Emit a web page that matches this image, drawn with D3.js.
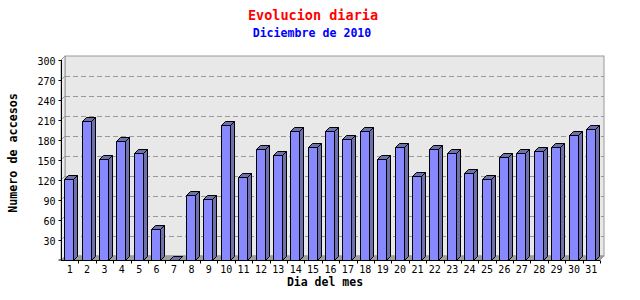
<!DOCTYPE html>
<html><head><meta charset="utf-8">
<script src="https://cdn.jsdelivr.net/npm/d3@7/dist/d3.min.js"></script>
<style>body{margin:0;background:#fff}svg{display:block}</style>
</head><body>
<script>
const days = d3.range(1, 32).map(String);
const accesos = [121, 209, 152, 179, 161, 47, 0, 98, 92, 203, 125, 166, 158, 193, 169, 194, 181, 194, 152, 170, 126, 166, 160, 130, 122, 154, 161, 164, 169, 188, 196];
const yTicks = [30, 60, 90, 120, 150, 180, 210, 240, 270, 300];
const titleText = "Evolucion diaria";
const subtitleText = "Diciembre de 2010";
const yTitle = "Numero de accesos";
const xTitle = "Dia del mes";

const W = 640, H = 300, D = 4;
const svg = d3.select("body").append("svg").attr("width", W).attr("height", H);
svg.append("rect").attr("width", W).attr("height", H).attr("fill", "#fff");

const x = d3.scaleBand().domain(days).range([61, 600]).padding(0);
const y = d3.scaleLinear().domain([0, 300]).range([260, 60]);
const bw = x.bandwidth();
const y0 = y(0), yTop = y(300), xL = x.range()[0], xR = x.range()[1];

// back panel
svg.append("rect").attr("x", xL + D).attr("y", yTop - D).attr("width", xR - xL).attr("height", y0 - yTop)
  .attr("fill", "#e8e8e8").attr("stroke", "#999").attr("stroke-width", 1);
// left wall
svg.append("polygon").attr("points", [[xL, yTop], [xL + D, yTop - D], [xL + D, y0 - D], [xL, y0]].join(" "))
  .attr("fill", "#ececec").attr("stroke", "#999");
// floor
svg.append("polygon").attr("points", [[xL, y0], [xR, y0], [xR + D, y0 - D], [xL + D, y0 - D]].join(" "))
  .attr("fill", "#a0a0a0").attr("stroke", "#999");

// grid lines
const gridVals = yTicks.filter(v => v < 300);
svg.append("g").selectAll("line").data(gridVals).join("line")
  .attr("x1", xL + D).attr("x2", xR + D)
  .attr("y1", d => Math.round(y(d) - D) + 0.5).attr("y2", d => Math.round(y(d) - D) + 0.5)
  .attr("stroke", "#999").attr("stroke-dasharray", "5,3");
svg.append("g").selectAll("line").data(gridVals).join("line")
  .attr("x1", xL).attr("x2", xL + D)
  .attr("y1", d => y(d)).attr("y2", d => y(d) - D)
  .attr("stroke", "#999");

// bars
const front = "#8888ff", dark = "#6e71ab";
const g = svg.append("g").attr("stroke", "#000").attr("stroke-width", 1).attr("stroke-linejoin", "round");
days.forEach((d, i) => {
  const v = accesos[i];
  const bx = Math.round(x(d) + bw * 0.19) + 0.5;
  const w = Math.round(bw * 0.52);
  const yv = Math.round(y(v)) + 0.5;
  const yb = y0 + 0.5;
  // side
  g.append("polygon").attr("points", [[bx + w, yv], [bx + w + D, yv - D], [bx + w + D, yb - D], [bx + w, yb]].join(" "))
    .attr("fill", dark);
  // top
  g.append("polygon").attr("points", [[bx, yv], [bx + D, yv - D], [bx + w + D, yv - D], [bx + w, yv]].join(" "))
    .attr("fill", dark);
  if (v > 0) g.append("rect").attr("x", bx).attr("y", yv).attr("width", w).attr("height", yb - yv).attr("fill", front);
});

// axes
const axY = svg.append("g").attr("transform", `translate(${xL + 0.5},0)`)
  .call(d3.axisLeft(y).tickValues(yTicks).tickSize(3).tickPadding(3).tickFormat(d3.format("d")));
axY.select(".domain").attr("d", `M-3,${y0}H0V${yTop}`);
axY.selectAll("text").attr("font-family", "DejaVu Sans Mono, monospace").attr("font-size", 10).attr("fill", "#000").attr("dy", "0.72em").attr("y", -3);

const axX = svg.append("g").attr("transform", `translate(0,${y0 + 0.5})`)
  .call(d3.axisBottom(x).tickSize(0).tickPadding(5));
axX.select(".domain").attr("d", `M${xL},0H${xR}`);
axX.selectAll("text").attr("font-family", "DejaVu Sans Mono, monospace").attr("font-size", 10).attr("fill", "#000");
axX.append("g").selectAll("line").data(days).join("line")
  .attr("x1", d => Math.round(x(d) + bw) + 0.5).attr("x2", d => Math.round(x(d) + bw) + 0.5)
  .attr("y1", 0).attr("y2", 3).attr("stroke", "#000");

// titles
svg.append("text").attr("x", 313).attr("y", 19.5).attr("text-anchor", "middle")
  .attr("font-family", "DejaVu Sans Mono, monospace").attr("font-weight", "bold").attr("font-size", 13.5)
  .attr("fill", "#ff0000").text(titleText);
svg.append("text").attr("x", 312).attr("y", 36.5).attr("text-anchor", "middle")
  .attr("font-family", "DejaVu Sans Mono, monospace").attr("font-weight", "bold").attr("font-size", 11.6)
  .attr("fill", "#0000ff").text(subtitleText);
svg.append("text").attr("transform", "translate(17,153) rotate(-90)").attr("text-anchor", "middle")
  .attr("font-family", "DejaVu Sans Mono, monospace").attr("font-weight", "bold").attr("font-size", 11.7)
  .attr("fill", "#000").text(yTitle);
svg.append("text").attr("x", 325).attr("y", 286).attr("text-anchor", "middle")
  .attr("font-family", "DejaVu Sans Mono, monospace").attr("font-weight", "bold").attr("font-size", 11.5)
  .attr("fill", "#000").text(xTitle);
</script>
</body></html>
